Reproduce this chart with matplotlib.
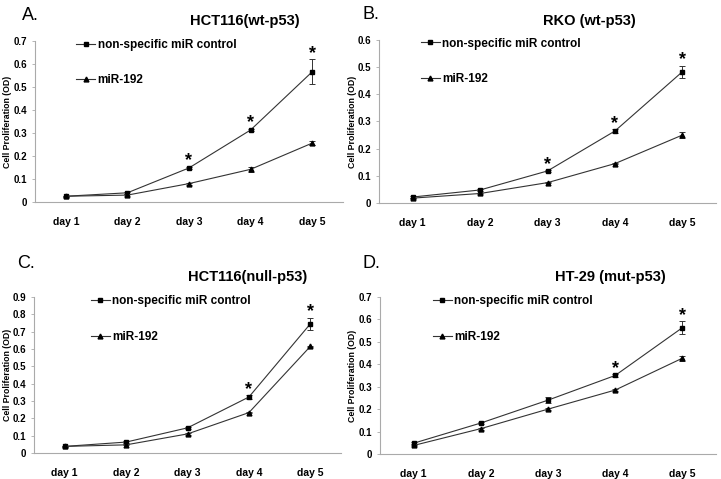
import numpy as np
import matplotlib
matplotlib.use('Agg')
from matplotlib import pyplot as plt
from matplotlib.lines import Line2D
from matplotlib.ticker import FuncFormatter

plt.rcParams['font.family'] = ['Liberation Sans Narrow', 'Liberation Sans', 'DejaVu Sans']

days = ['day 1', 'day 2', 'day 3', 'day 4', 'day 5']

# Panel A: HCT116 (wt-p53)
a_ctrl = [0.025, 0.040, 0.148, 0.313, 0.566]
a_ctrl_err = [0.003, 0.004, 0.005, 0.006, 0.055]
a_mir = [0.025, 0.030, 0.080, 0.142, 0.256]
a_mir_err = [0.002, 0.003, 0.004, 0.012, 0.008]
a_stars = [2, 3, 4]

# Panel B: RKO (wt-p53)
b_ctrl = [0.022, 0.048, 0.118, 0.265, 0.483]
b_ctrl_err = [0.003, 0.004, 0.004, 0.008, 0.022]
b_mir = [0.018, 0.035, 0.075, 0.145, 0.250]
b_mir_err = [0.002, 0.003, 0.003, 0.003, 0.012]
b_stars = [2, 3, 4]

# Panel C: HCT116 (null-p53)
c_ctrl = [0.038, 0.063, 0.145, 0.323, 0.745]
c_ctrl_err = [0.003, 0.004, 0.005, 0.012, 0.035]
c_mir = [0.038, 0.047, 0.110, 0.233, 0.615]
c_mir_err = [0.002, 0.003, 0.004, 0.004, 0.005]
c_stars = [3, 4]

# Panel D: HT-29 (mut-p53)
d_ctrl = [0.048, 0.138, 0.240, 0.350, 0.563]
d_ctrl_err = [0.004, 0.005, 0.012, 0.006, 0.030]
d_mir = [0.038, 0.113, 0.200, 0.285, 0.427]
d_mir_err = [0.003, 0.004, 0.004, 0.006, 0.012]
d_stars = [3, 4]

panels = [
    dict(letter='A.', title='HCT116(wt-p53)', ctrl=a_ctrl, ctrl_err=a_ctrl_err, mir=a_mir, mir_err=a_mir_err,
         stars=a_stars, ymax=0.7, rect=[0.0485, 0.5783, 0.4272, 0.3361], leg=0.12,
         letter_xy=(0.030, 0.986), title_xy=(0.340, 0.970), ylab_x=0.011),
    dict(letter='B.', title='RKO (wt-p53)', ctrl=b_ctrl, ctrl_err=b_ctrl_err, mir=b_mir, mir_err=b_mir_err,
         stars=b_stars, ymax=0.6, rect=[0.5257, 0.5762, 0.4674, 0.3403], leg=0.113,
         letter_xy=(0.503, 0.988), title_xy=(0.818, 0.970), ylab_x=0.489),
    dict(letter='C.', title='HCT116(null-p53)', ctrl=c_ctrl, ctrl_err=c_ctrl_err, mir=c_mir, mir_err=c_mir_err,
         stars=c_stars, ymax=0.9, rect=[0.0472, 0.0543, 0.4258, 0.3257], leg=0.17,
         letter_xy=(0.024, 0.468), title_xy=(0.344, 0.437), ylab_x=0.011),
    dict(letter='D.', title='HT-29 (mut-p53)', ctrl=d_ctrl, ctrl_err=d_ctrl_err, mir=d_mir, mir_err=d_mir_err,
         stars=d_stars, ymax=0.7, rect=[0.527, 0.0522, 0.466, 0.3278], leg=0.146,
         letter_xy=(0.503, 0.468), title_xy=(0.846, 0.437), ylab_x=0.489),
]

line_kw = dict(color='#333333', lw=0.8, mfc='black', mec='black', ms=3.5)
err_kw = dict(ecolor='#333333', elinewidth=0.7, capsize=2.5, capthick=0.7)

fig = plt.figure(figsize=(7.21, 4.79), dpi=100)
x = np.arange(len(days)) + 0.5

for p in panels:
    ax = fig.add_axes(p['rect'])
    ax.errorbar(x, p['ctrl'], yerr=p['ctrl_err'], marker='s', **line_kw, **err_kw)
    ax.errorbar(x, p['mir'], yerr=p['mir_err'], marker='^', **line_kw, **err_kw)
    for i in p['stars']:
        ax.annotate('*', (x[i], p['ctrl'][i] + p['ctrl_err'][i]), xytext=(0, -2),
                    textcoords='offset points', ha='center', va='bottom',
                    fontsize=13, fontweight='bold')

    ax.set_xlim(0, len(days))
    ax.set_ylim(0, p['ymax'])
    ax.set_yticks(np.arange(0, p['ymax'] + 0.001, 0.1))
    ax.yaxis.set_major_formatter(FuncFormatter(lambda v, pos: f'{v:g}'))
    ax.set_xticks(x)
    ax.set_xticklabels(days)
    ax.tick_params(axis='x', length=0, pad=11, labelsize=7.5)
    ax.tick_params(axis='y', length=2.5, width=0.6, color='#aaaaaa', pad=3, labelsize=7)
    for lbl in ax.get_xticklabels() + ax.get_yticklabels():
        lbl.set_fontweight('bold')
    for side in ['top', 'right']:
        ax.spines[side].set_visible(False)
    for side in ['left', 'bottom']:
        ax.spines[side].set_color('#aaaaaa')
        ax.spines[side].set_linewidth(0.8)

    handles = [Line2D([], [], marker='s', **line_kw), Line2D([], [], marker='^', **line_kw)]
    ax.legend(handles, ['non-specific miR control', 'miR-192'], loc='upper left',
              bbox_to_anchor=(p['leg'] - 0.02, 1.08), frameon=False,
              handlelength=1.6, handletextpad=0.2, labelspacing=2.0,
              prop=dict(size=8.5, weight='bold'))

    fig.text(p['ylab_x'], p['rect'][1] + p['rect'][3] / 2, 'Cell Proliferation (OD)',
             rotation=90, ha='center', va='center', fontsize=6.3, fontweight='bold')
    fig.text(p['letter_xy'][0], p['letter_xy'][1], p['letter'], ha='left', va='top', fontsize=13)
    fig.text(p['title_xy'][0], p['title_xy'][1], p['title'], ha='center', va='top',
             fontsize=10.5, fontweight='bold')

fig.savefig('out.png', dpi=100)
